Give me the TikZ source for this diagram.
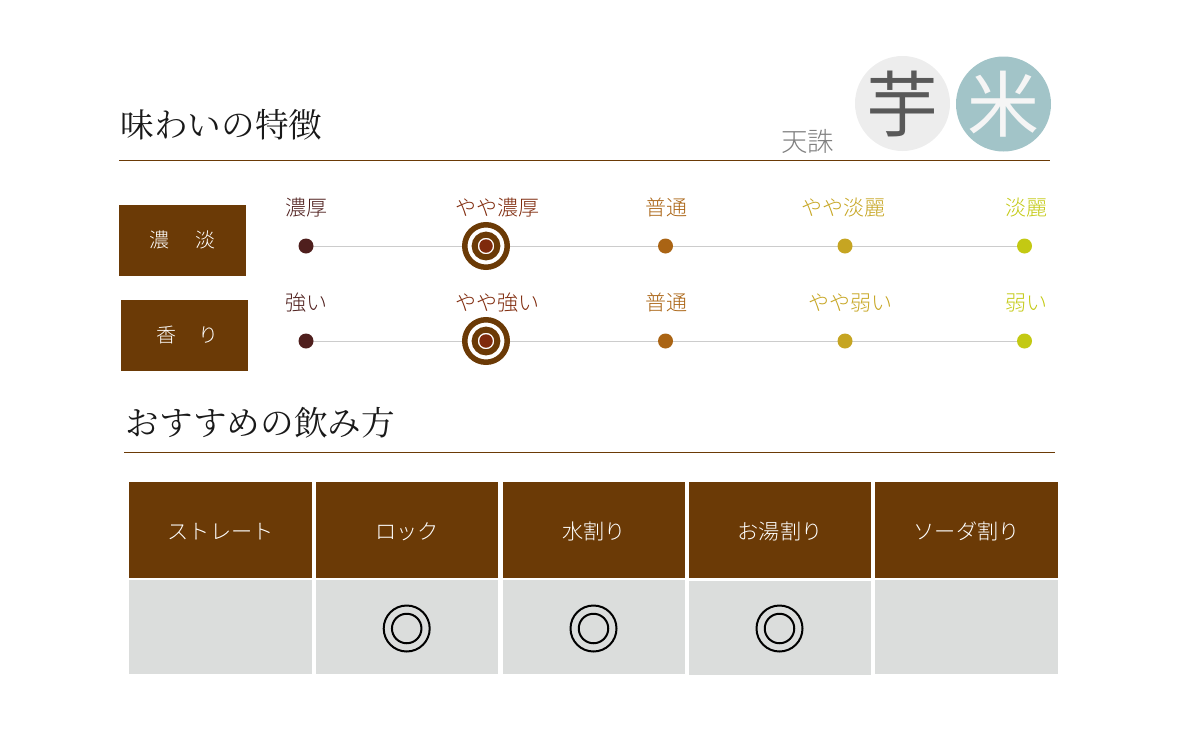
\documentclass[tikz,border=0pt]{standalone}
\usepackage{fontspec}
\setmainfont{Noto Sans CJK JP Light}
\newfontfamily\minfont{Noto Serif CJK JP}
\newfontfamily\regfont{Noto Sans CJK JP}
\definecolor{brn}{HTML}{6B3A06}
\definecolor{cellgray}{HTML}{DBDDDC}
\definecolor{teal}{HTML}{A2C4C8}
\definecolor{sa}{HTML}{4F1F1D}
\definecolor{sb}{HTML}{7F2A0C}
\definecolor{sc}{HTML}{AA6414}
\definecolor{sd}{HTML}{C6A522}
\definecolor{se}{HTML}{C3C913}
\tikzset{
 x=1pt,y=-1pt,
 txt/.style={inner sep=0pt,font=\fontsize{#1}{#1}\selectfont},
 title/.style={inner sep=0pt,text=black!90,anchor=west,font=\minfont\fontsize{33.6}{34}\selectfont},
 rule/.style={draw=brn,line width=0.8pt},
 hbox/.style={fill=brn,minimum width=127pt,minimum height=71pt,inner sep=0pt,text=white,text height=14.2pt,text depth=0pt,font=\fontsize{20}{20}\selectfont},
 dot/.style={circle,minimum size=15pt,inner sep=0pt,fill=#1},
 track/.style={draw=black!20,line width=1pt},
 tcell/.style={fill=brn,inner sep=0pt,minimum width=182.5pt,minimum height=96pt,text=white,text height=19pt,text depth=0pt,font=\fontsize{21.2}{21}\selectfont},
 gcell/.style={fill=cellgray,inner sep=0pt,minimum width=182.5pt,minimum height=94.5pt},
 ring/.style={draw=black,line width=2pt,circle,minimum size=#1,inner sep=0pt},
 target/.style={draw=brn,fill=white,line width=#1,circle,inner sep=0pt},
 badge/.style={circle,minimum size=95pt,inner sep=-14pt,font=\regfont\fontsize{72}{72}\selectfont},
 lab/.style={inner sep=0pt,text=#1,text height=16.8pt,text depth=0pt,font=\fontsize{21}{21}\selectfont},
}
\begin{document}
\begin{tikzpicture}
\useasboundingbox (0,0) rectangle (1200,750);
% titles and rules
\node[title] (t1) at (120.5,125) {味わいの特徴};
\node[title] (t2) at (125.5,423) {おすすめの飲み方};
\coordinate (r1a) at (119,160.5); \coordinate (r1b) at (1050,160.5);
\coordinate (r2a) at (124,452.5); \coordinate (r2b) at (1055,452.5);
\draw[rule] (r1a) -- (r1b);
\draw[rule] (r2a) -- (r2b);
% name and badges
\node[txt=26.5,text=black!50] (name) at (807.5,141) {天誅};
\node[badge,fill=black!7,text=black!65] (imo) at (902.5,103.5) {芋};
\node[badge,fill=teal,text=black!4] (kome) at (1003.5,104) {米};
% left boxes
\node[hbox] (b1) at (182.5,240.8) {濃\hspace{26pt}淡};
\node[hbox] (b2) at (184.5,335.8) {\hspace{6pt}香\hspace{22pt}り};
% scale rows: tracks first
\foreach \r/\y in {1/246,2/341}{
  \coordinate (a\r) at (306,\y);
  \coordinate (e\r) at (1024.5,\y);
  \draw[track] (a\r) -- (e\r);
  \node[dot=sa] (d\r a) at (306,\y) {};
  \node[target=5.5pt,minimum size=42.5pt] (o\r) at (486,\y) {};
  \node[target=6pt,minimum size=22.7pt] (i\r) at (486,\y) {};
  \node[dot=sb,minimum size=13.5pt] (d\r b) at (486,\y) {};
  \node[dot=sc] (d\r c) at (665.5,\y) {};
  \node[dot=sd] (d\r d) at (845,\y) {};
  \node[dot=se] (d\r e) at (1024.5,\y) {};
}
% scale labels
\node[lab=sa] (l1a) at (306,207.5) {濃厚};
\node[lab=sb] (l1b) at (497.5,207.5) {やや濃厚};
\node[lab=sc] (l1c) at (666.5,207.5) {普通};
\node[lab=sd] (l1d) at (843.5,207.5) {やや淡麗};
\node[lab=se] (l1e) at (1026.5,207.5) {淡麗};
\node[lab=sa] (l2a) at (306,302.5) {強い};
\node[lab=sb] (l2b) at (497.5,302.5) {やや強い};
\node[lab=sc] (l2c) at (666.5,302.5) {普通};
\node[lab=sd] (l2d) at (850.5,302.5) {やや弱い};
\node[lab=se] (l2e) at (1026.5,302.5) {弱い};
% table
\node[tcell] (h1) at (220.7,530) {ストレート};
\node[tcell] (h2) at (407.2,530) {ロック};
\node[tcell] (h3) at (594,530) {水割り};
\node[tcell] (h4) at (780,530) {お湯割り};
\node[tcell] (h5) at (966.7,530) {ソーダ割り};
\node[gcell] (g1) at (220.7,627) {};
\node[gcell] (g2) at (407.2,627) {};
\node[gcell] (g3) at (594,627) {};
\node[gcell] (g4) at (780,628) {};
\node[gcell] (g5) at (966.7,627) {};
\foreach \g/\dy in {2/-1.5,3/-1.5,4/-0.5}{
  \node[ring=46pt] (ro\g) at ([xshift=-0.5pt,yshift=\dy pt]g\g.center) {};
  \node[ring=29.5pt] (ri\g) at ([xshift=-0.5pt,yshift=\dy pt]g\g.center) {};
}
\end{tikzpicture}
\end{document}
